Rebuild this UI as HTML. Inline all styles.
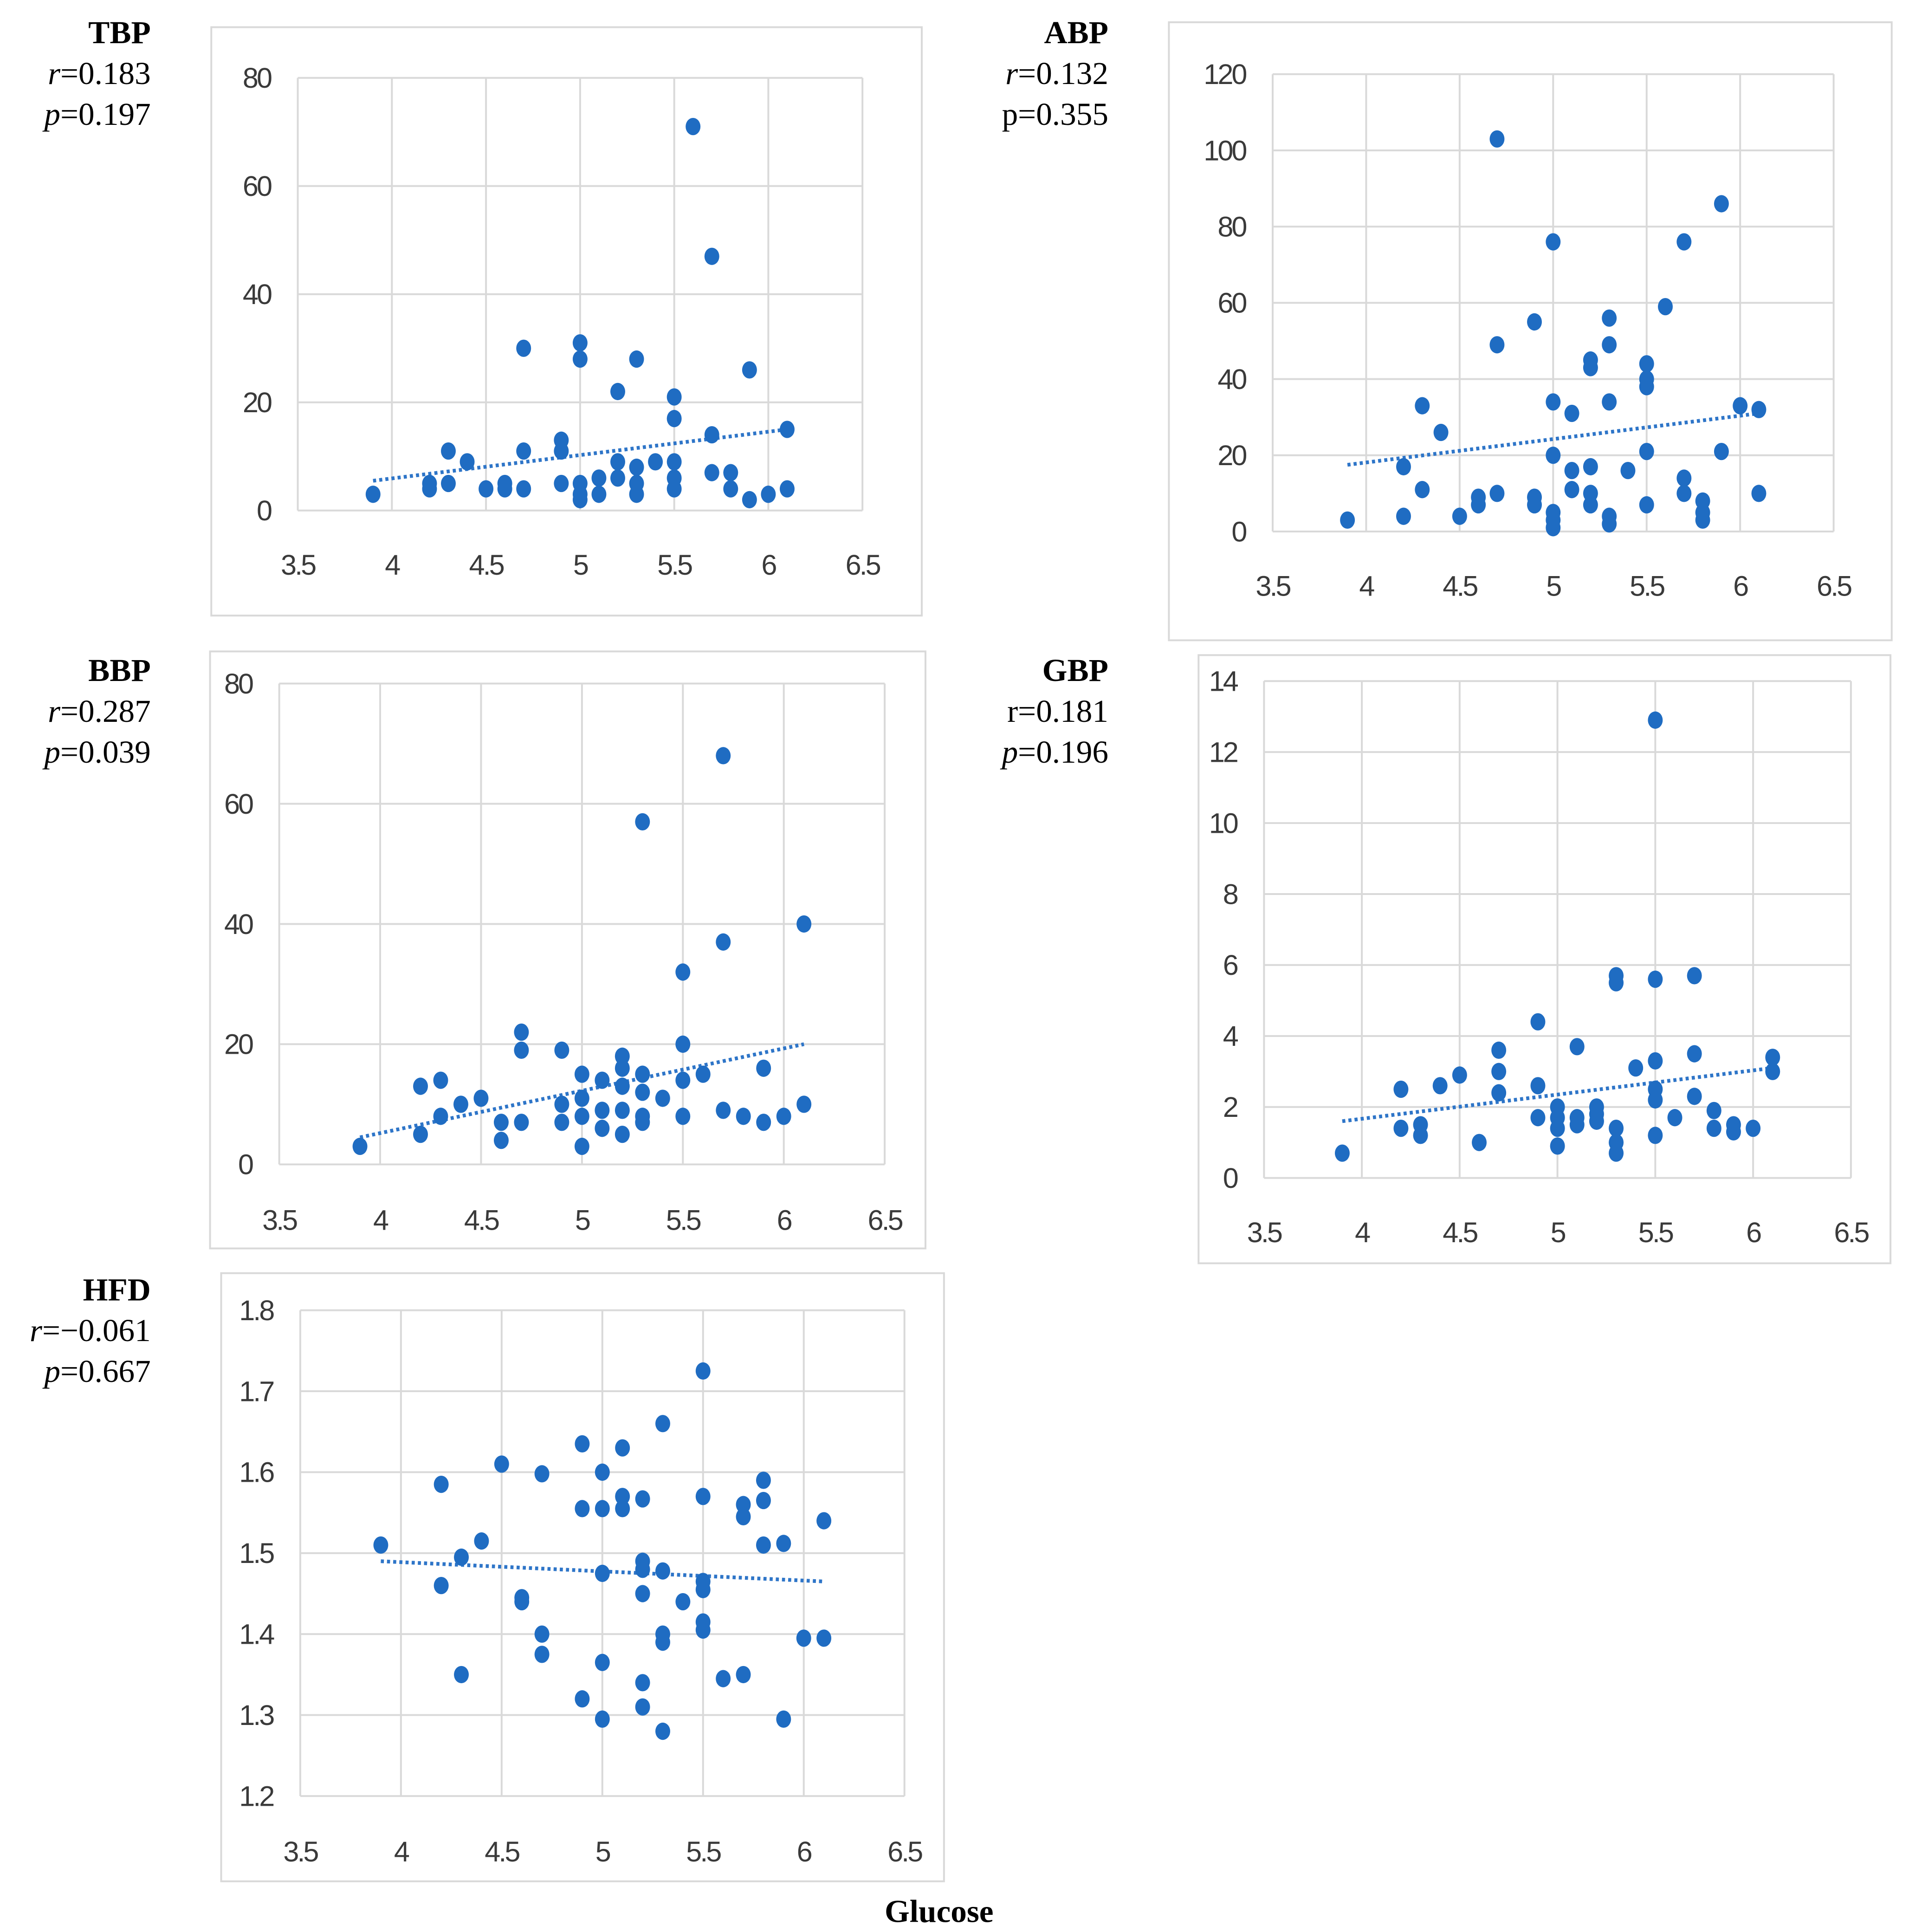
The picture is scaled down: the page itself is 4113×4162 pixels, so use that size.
<!DOCTYPE html>
<html><head><meta charset="utf-8"><style>
html,body{margin:0;padding:0;background:#fff;}
svg{display:block;}
.tick{font-family:"Liberation Sans",sans-serif;font-size:23px;fill:#3a3a3a;letter-spacing:-1.5px;}
.lab{font-family:"Liberation Serif",serif;font-size:26px;fill:#000;}
</style></head><body>
<svg id="chart" width="4113" height="4162" viewBox="0 0 1545 1563" preserveAspectRatio="none" xmlns="http://www.w3.org/2000/svg">
<rect width="1545" height="1563" fill="#fff"/>
<text class="lab" x="760" y="1555" text-anchor="middle" font-weight="bold">Glucose</text>
</svg>
<script>
const xTicks=[3.5,4,4.5,5,5.5,6,6.5];
const xTickLabels=["3.5","4","4.5","5","5.5","6","6.5"];
const tbpX=[3.9,4.2,4.2,4.3,4.3,4.4,4.5,4.6,4.6,4.7,4.7,4.7,4.9,4.9,4.9,5,5,5,5,5,5.1,5.1,5.2,5.2,5.2,5.3,5.3,5.3,5.3,5.4,5.5,5.5,5.5,5.5,5.5,5.6,5.7,5.7,5.7,5.8,5.8,5.9,5.9,6,6.1,6.1];
const tbpY=[3,4,5,11,5,9,4,4,5,30,11,4,13,11,5,31,28,5,3,2,6,3,22,9,6,28,8,5,3,9,21,17,9,6,4,71,47,14,7,7,4,26,2,3,15,4];
const tbpTrend=[5.5,15];
const abpX=[3.9,4.2,4.2,4.3,4.3,4.4,4.5,4.6,4.6,4.7,4.7,4.7,4.9,4.9,4.9,5,5,5,5,5,5,5.1,5.1,5.1,5.2,5.2,5.2,5.2,5.2,5.3,5.3,5.3,5.3,5.3,5.4,5.5,5.5,5.5,5.5,5.5,5.6,5.7,5.7,5.7,5.8,5.8,5.8,5.9,5.9,6,6.1,6.1];
const abpY=[3,17,4,33,11,26,4,9,7,103,49,10,55,9,7,76,34,20,5,3,1,31,16,11,45,43,17,10,7,56,49,34,4,2,16,44,40,38,21,7,59,76,14,10,8,5,3,86,21,33,32,10];
const abpTrend=[17.5,31];
const bbpX=[3.9,4.2,4.2,4.3,4.3,4.4,4.5,4.6,4.6,4.7,4.7,4.7,4.9,4.9,4.9,5,5,5,5,5.1,5.1,5.1,5.2,5.2,5.2,5.2,5.2,5.3,5.3,5.3,5.3,5.3,5.4,5.5,5.5,5.5,5.5,5.6,5.7,5.7,5.7,5.8,5.9,5.9,6,6.1,6.1];
const bbpY=[3,13,5,14,8,10,11,7,4,22,19,7,19,10,7,15,11,8,3,14,9,6,18,16,13,9,5,57,15,12,8,7,11,32,20,14,8,15,68,37,9,8,16,7,8,40,10];
const bbpTrend=[4.5,20];
const gbpX=[3.9,4.2,4.2,4.3,4.3,4.4,4.5,4.6,4.7,4.7,4.7,4.9,4.9,4.9,5,5,5,5,5.1,5.1,5.1,5.2,5.2,5.2,5.3,5.3,5.3,5.3,5.3,5.4,5.5,5.5,5.5,5.5,5.5,5.5,5.6,5.7,5.7,5.7,5.8,5.8,5.9,5.9,6,6.1,6.1];
const gbpY=[0.7,2.5,1.4,1.5,1.2,2.6,2.9,1.0,3.6,3.0,2.4,4.4,2.6,1.7,2.0,1.7,1.4,0.9,3.7,1.7,1.5,2.0,1.8,1.6,5.7,5.5,1.4,1.0,0.7,3.1,12.9,5.6,3.3,2.5,2.2,1.2,1.7,5.7,3.5,2.3,1.9,1.4,1.5,1.3,1.4,3.4,3.0];
const gbpTrend=[1.6,3.1];
const hfdX=[3.9,4.2,4.2,4.3,4.3,4.4,4.5,4.6,4.6,4.7,4.7,4.7,4.9,4.9,4.9,5,5,5,5,5,5.1,5.1,5.1,5.2,5.2,5.2,5.2,5.2,5.2,5.3,5.3,5.3,5.3,5.3,5.4,5.5,5.5,5.5,5.5,5.5,5.5,5.6,5.7,5.7,5.7,5.8,5.8,5.8,5.9,5.9,6,6.1,6.1];
const hfdY=[1.51,1.585,1.46,1.495,1.35,1.515,1.61,1.445,1.44,1.598,1.4,1.375,1.635,1.555,1.32,1.60,1.555,1.475,1.365,1.295,1.63,1.57,1.555,1.567,1.49,1.48,1.45,1.34,1.31,1.66,1.478,1.4,1.39,1.28,1.44,1.725,1.57,1.465,1.455,1.415,1.405,1.345,1.56,1.545,1.35,1.59,1.565,1.51,1.512,1.295,1.395,1.54,1.395];
const hfdTrend=[1.49,1.465];
const tbpYTicks=[0,20,40,60,80];
const abpYTicks=[0,20,40,60,80,100,120];
const bbpYTicks=[0,20,40,60,80];
const gbpYTicks=[0,2,4,6,8,10,12,14];
const hfdYTicks=[1.2,1.3,1.4,1.5,1.6,1.7,1.8];
const hfdYLabels=["1.2","1.3","1.4","1.5","1.6","1.7","1.8"];

const NS="http://www.w3.org/2000/svg";
const svg=document.getElementById('chart');
function mk(tag,attrs,parent){const e=document.createElementNS(NS,tag);for(const k in attrs)e.setAttribute(k,attrs[k]);(parent||svg).appendChild(e);return e;}

const panels=[
 {id:'tbp',box:[171,22,746,498],x0:241,x1:698,yTop:63,yBot:413,yT:tbpYTicks,yL:null,xs:tbpX,ys:tbpY,tr:tbpTrend,xly:465,lab:[122,'TBP','r','=0.183','p','=0.197'],it:[true,true]},
 {id:'abp',box:[946,18,1531,518],x0:1030,x1:1484,yTop:60,yBot:430,yT:abpYTicks,yL:null,xs:abpX,ys:abpY,tr:abpTrend,xly:482,lab:[897,'ABP','r','=0.132','p','=0.355'],it:[true,false]},
 {id:'bbp',box:[170,527,749,1010],x0:226,x1:716,yTop:553,yBot:942,yT:bbpYTicks,yL:null,xs:bbpX,ys:bbpY,tr:bbpTrend,xly:995,lab:[122,'BBP','r','=0.287','p','=0.039'],it:[true,true]},
 {id:'gbp',box:[970,530,1530,1022],x0:1023,x1:1498,yTop:551,yBot:953,yT:gbpYTicks,yL:null,xs:gbpX,ys:gbpY,tr:gbpTrend,xly:1005,lab:[897,'GBP','r','=0.181','p','=0.196'],it:[false,true]},
 {id:'hfd',box:[179,1030,764,1522],x0:243,x1:732,yTop:1060,yBot:1453,yT:hfdYTicks,yL:hfdYLabels,xs:hfdX,ys:hfdY,tr:hfdTrend,xly:1506,lab:[122,'HFD','r','=\u22120.061','p','=0.667'],it:[true,true]}
];
const labY={tbp:27,abp:27,bbp:543,gbp:543,hfd:1044};
panels.forEach(p=>{
 const g=mk('g',{});
 
 
 const b=p.box;
 const frame=mk('rect',{x:b[0],y:b[1],width:b[2]-b[0],height:b[3]-b[1],fill:'#fff',stroke:'#d9d9d9','stroke-width':1.5},g);
 
 
 const xmin=xTicks[0],xmax=xTicks[xTicks.length-1];
 const ymin=p.yT[0],ymax=p.yT[p.yT.length-1];
 const sx=v=>p.x0+(v-xmin)/(xmax-xmin)*(p.x1-p.x0);
 const sy=v=>p.yBot-(v-ymin)/(ymax-ymin)*(p.yBot-p.yTop);
 xTicks.forEach((t,i)=>{
  const l=mk('line',{x1:sx(t),x2:sx(t),y1:p.yTop,y2:p.yBot,stroke:'#d9d9d9','stroke-width':1.5},g);
  
  
  const tx=mk('text',{class:'tick',x:sx(t),y:p.xly,'text-anchor':'middle'},g);
  
  
  tx.textContent=xTickLabels[i];
 });
 p.yT.forEach((t,i)=>{
  const l=mk('line',{x1:p.x0,x2:p.x1,y1:sy(t),y2:sy(t),stroke:'#d9d9d9','stroke-width':1.5},g);
  
  
  const tx=mk('text',{class:'tick',x:p.x0-22,y:sy(t)+8,'text-anchor':'end'},g);
  
  
  tx.textContent=p.yL?p.yL[i]:String(t);
 });
 const tl=mk('line',{x1:sx(3.9),x2:sx(6.1),y1:sy(p.tr[0]),y2:sy(p.tr[1]),stroke:'#2e75c8','stroke-width':3,'stroke-dasharray':'2.5 2.5'},g);
 
 
 p.xs.forEach((x,i)=>{
  const c=mk('ellipse',{cx:sx(x),cy:sy(p.ys[i]),rx:6,ry:7,fill:'#1f6cc2'},g);
  
  
 });
 const ly=labY[p.id],lx=p.lab[0];
 const t1=mk('text',{class:'lab',x:lx,y:ly+8,'text-anchor':'end','font-weight':'bold'},g);
 
 
 t1.textContent=p.lab[1];
 const t2=mk('text',{class:'lab',x:lx,y:ly+41,'text-anchor':'end'},g);
 
 
 const r1=mk('tspan',{'font-style':p.it[0]?'italic':'normal'},t2);r1.textContent=p.lab[2];
 const r2=mk('tspan',{},t2);r2.textContent=p.lab[3];
 const t3=mk('text',{class:'lab',x:lx,y:ly+74,'text-anchor':'end'},g);
 
 
 const q1=mk('tspan',{'font-style':p.it[1]?'italic':'normal'},t3);q1.textContent=p.lab[4];
 const q2=mk('tspan',{},t3);q2.textContent=p.lab[5];
});
</script>
</body></html>
